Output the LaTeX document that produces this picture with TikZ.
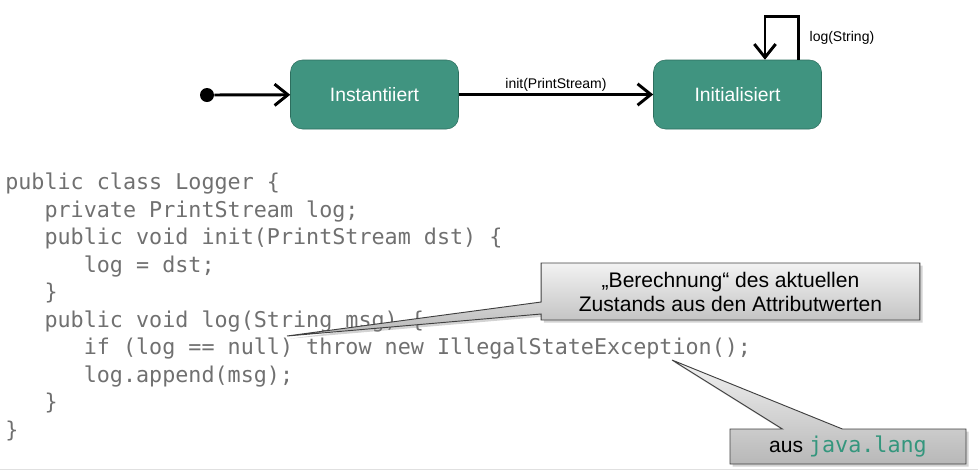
\documentclass[tikz,border=0pt]{standalone}
\usepackage{fontspec}
\setmainfont{Liberation Sans}
\newfontfamily\codefont{DejaVu Sans Mono}
\usetikzlibrary{arrows.meta,shapes.callouts,shadows}
\definecolor{statefill}{RGB}{64,148,128}
\definecolor{stateline}{RGB}{45,110,94}
\definecolor{codegray}{RGB}{112,112,112}
\definecolor{javateal}{RGB}{52,150,125}
\newcommand{\tab}{\hphantom{000}}

\begin{document}
\begin{tikzpicture}[x=0.75pt,y=-0.75pt,
	state/.style={draw=stateline,fill=statefill,rounded corners=9pt,minimum width=126pt,minimum height=51.75pt,text=white,font=\fontsize{14.5}{17}\selectfont},
	trans/.style={line width=2.2pt,-{Straight Barb[length=10pt,width=16pt]}},
	lbl/.style={font=\fontsize{10.5}{12}\selectfont,inner sep=1pt},
	note/.style={rectangle callout,draw=black!75,line width=0.7pt,top color=black!5,bottom color=black!28,drop shadow={opacity=0.35,shadow xshift=2pt,shadow yshift=-2pt},inner sep=2pt,font=\fontsize{15.8}{18}\selectfont,align=center}]
	\useasboundingbox (0,0) rectangle (978,472);

	% states
	\node[circle,fill=black,inner sep=0,minimum size=10.5pt] (start) at (207,95) {};
	\node[state] (inst) at (374.5,94.5) {Instantiiert};
	\node[state] (init) at (737.5,94.5) {Initialisiert};

	% transitions
	\draw[trans] (start) -- (inst);
	\draw[trans] (inst) -- (init) node[lbl,midway,above] {init(PrintStream)};
	\draw[trans] ([xshift=46pt]init.north) -- ++(0,-43) node[lbl,midway,right=6pt] {log(String)} -| ([xshift=20.6pt]init.north);

	% code (base = last line)
	\node[anchor=base west,inner sep=0,align=left,text=codegray,font=\codefont\fontsize{16.3}{20.6}\selectfont] (code) at (5,437) {%
		public class Logger \{\\
		\tab private PrintStream log;\\
		\tab public void init(PrintStream dst) \{\\
		\tab\tab log = dst;\\
		\tab \}\\
		\tab public void log(String msg) \{\\
		\tab\tab if (log == null) throw new IllegalStateException();\\
		\tab\tab log.append(msg);\\
		\tab \}\\
		\}};

	% notes
	\coordinate (nulltip) at (287,336);
	\coordinate (exctip) at (672,360);
	\node[note,minimum width=284pt,minimum height=42.75pt,callout absolute pointer={(nulltip)},callout pointer width=9pt] (calc) at (730.5,291.5) {„Berechnung“ des aktuellen\\Zustands aus den Attributwerten};
	\node[note,minimum width=177pt,minimum height=26.25pt,callout absolute pointer={(exctip)},callout pointer width=45pt] (pkg) at (848,446.5) {aus {\codefont\fontsize{16.3}{18}\selectfont\color{javateal}java.lang}};

	\draw[black!12,line width=0.75pt] (0,469) -- (978,469);
\end{tikzpicture}
\end{document}
